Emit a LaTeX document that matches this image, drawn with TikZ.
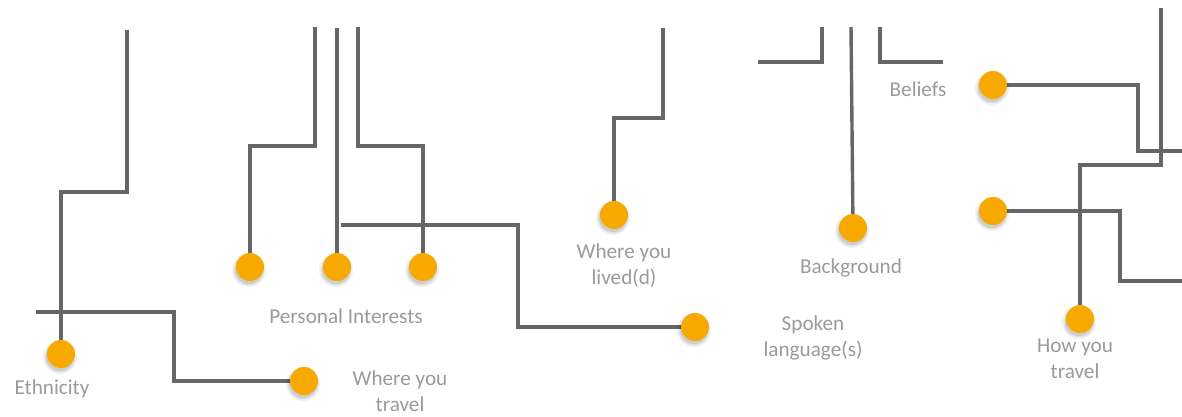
\documentclass[tikz,border=0pt]{standalone}
\usepackage{fontspec}
\setmainfont{Carlito}
\definecolor{wire}{HTML}{666666}
\definecolor{dotc}{HTML}{F7A900}
\definecolor{labc}{HTML}{9A9A9A}
\begin{document}
\begin{tikzpicture}[x=1pt,y=-1pt,
  wirepath/.style={draw=wire,line width=3.4pt,line join=miter},
  dotnode/.style={circle,fill=dotc,draw=none,minimum size=28pt,inner sep=0pt},
  softshade/.style={fill=black,opacity=#1},
  lab/.style={text=labc,align=center,font=\fontsize{21.2}{26}\selectfont,inner sep=0pt}]
\useasboundingbox (0,0) rectangle (1182,417);
% free ends
\coordinate (tEth) at (127,30);
\coordinate (tWyt) at (36,312);
\coordinate (tP1) at (315,27);
\coordinate (tP2) at (337,28);
\coordinate (tP3) at (358,27);
\coordinate (tSpk) at (341,225);
\coordinate (tWyl) at (663,28);
\coordinate (bA) at (758,62);
\coordinate (bAt) at (822,27);
\coordinate (tBg) at (851,27);
\coordinate (bC) at (880,27);
\coordinate (bCe) at (943,62);
\coordinate (eBel) at (1182,151);
\coordinate (tHyt) at (1161,8);
\coordinate (eD2) at (1182,281);
% dot positions
\path (61,354) coordinate (eth)
      (304,381) coordinate (wyt)
      (250,267) coordinate (pi1)
      (337,267) coordinate (pi2)
      (423,267) coordinate (pi3)
      (695,327) coordinate (spk)
      (614,215) coordinate (wyl)
      (853,228) coordinate (bg)
      (993,85) coordinate (bel)
      (993,211) coordinate (dd)
      (1080,319) coordinate (hyt);
% wires
\draw[wirepath] (tEth) -- (127,192) -| (eth);
\draw[wirepath] (tWyt) -- (174,312) |- (wyt);
\draw[wirepath] (tP1) -- (315,146) -| (pi1);
\draw[wirepath] (tP2) -- (pi2);
\draw[wirepath] (tP3) -- (358,146) -| (pi3);
\draw[wirepath] (tSpk) -- (518,225) |- (spk);
\draw[wirepath] (tWyl) -- (663,118) -| (wyl);
\draw[wirepath] (bA) -| (bAt);
\draw[wirepath] (tBg) -- (bg);
\draw[wirepath] (bC) |- (bCe);
\draw[wirepath] (bel) -| (1138,151) -- (eBel);
\draw[wirepath] (tHyt) -- (1161,165) -| (hyt);
\draw[wirepath] (dd) -| (1120,281) -- (eD2);
% soft shadows
\foreach \n in {eth,wyt,pi1,pi2,pi3,spk,wyl,bg,bel,dd,hyt}{
  \fill[softshade=0.05] ([shift={(-1,3)}]\n) circle (17);
  \fill[softshade=0.07] ([shift={(-1,3)}]\n) circle (15.5);
  \fill[softshade=0.09] ([shift={(-1,3)}]\n) circle (14);
}
% dots
\foreach \n in {eth,wyt,pi1,pi2,pi3,spk,wyl,bg,bel,dd,hyt}
  \node[dotnode] (n\n) at (\n) {};
% labels
\node[lab] (lEth) at (52,389) {Ethnicity};
\node[lab] (lWyt) at (400,391) {Where you\\travel};
\node[lab] (lPi) at (346,316) {Personal Interests};
\node[lab] (lWyl) at (624,266) {Where you\\lived(d)};
\node[lab] (lBg) at (851,268) {Background};
\node[lab] (lSpk) at (813,338) {Spoken\\language(s)};
\node[lab] (lBel) at (918,89) {Beliefs};
\node[lab] (lHyt) at (1075,359) {How you\\travel};
\end{tikzpicture}
\end{document}
